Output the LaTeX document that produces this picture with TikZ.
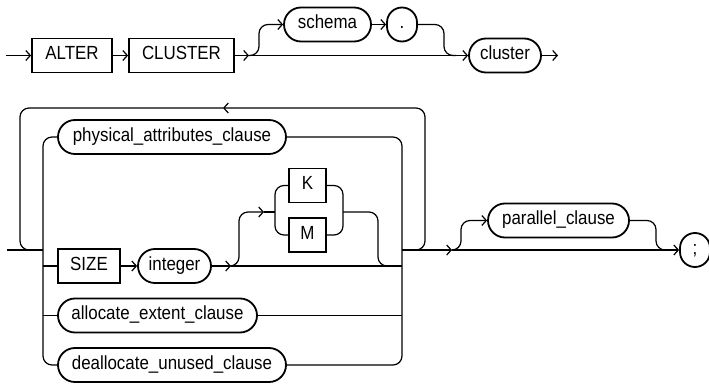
\documentclass[tikz,border=0pt]{standalone}
\usepackage{fontspec}
\setmainfont{Liberation Sans}[FakeStretch=0.89]
\usetikzlibrary{arrows.meta}
\tikzset{
  rail/.style={line width=1.2pt},
  ar/.style={rail,-{Straight Barb[length=4.5pt,width=10pt]}},
  rc/.style={rail,rounded corners=9pt},
  kwbox/.style={draw,line width=1.8pt,minimum height=34pt,inner sep=0pt,text height=13.6pt,text depth=5pt},
  pill/.style={kwbox,rounded corners=17pt},
  dotpill/.style={kwbox,rounded corners=15pt,minimum width=30pt}
}

\begin{document}
\begin{tikzpicture}[x=1pt,y=-1pt,font=\fontsize{19}{22}\selectfont]
\useasboundingbox (0,0) rectangle (709,385);
% first line
\node[kwbox,minimum width=80pt] (alter) at (72,55.5) {ALTER};
\node[kwbox,minimum width=105pt] (clusterkw) at (181.5,55.5) {CLUSTER};
\node[pill,minimum width=87pt] (schema) at (327.5,24.5) {schema};
\node[dotpill] (dot) at (402,24.5) {.};
\node[pill,minimum width=72pt] (cluster) at (505,55.5) {cluster};
\coordinate (in1) at (6,55.5);
\coordinate (j1) at (249,55.5);
\coordinate (out1) at (558,55.5);
\draw[ar] (in1) -- (alter);
\draw[ar] (alter) -- (clusterkw);
\draw[ar] (clusterkw) -- (j1);
\draw[ar] (j1) -- (cluster);
\draw[rc,ar] (j1) -| (259,24.5) -- (schema);
\draw[ar] (schema) -- (dot);
\draw[rc] (dot.east) -| (444,55.5) -- (456,55.5);
\draw[ar] (cluster) -- (out1);
% second line
\node[pill,minimum width=228pt] (phys) at (172,137) {physical\_attributes\_clause};
\node[kwbox,minimum width=62pt] (size) at (89,266) {SIZE};
\node[pill,minimum width=73pt] (int) at (174.5,266) {integer};
\node[kwbox,minimum width=37pt] (k) at (307.5,185.5) {K};
\node[kwbox,minimum width=37pt] (m) at (307.5,235) {M};
\node[pill,minimum width=199pt] (alloc) at (157.5,315.5) {allocate\_extent\_clause};
\node[pill,minimum width=228pt] (dealloc) at (172,365) {deallocate\_unused\_clause};
\node[pill,minimum width=141pt] (par) at (558.5,220.5) {parallel\_clause};
\node[dotpill] (semi) at (695,250) {;};
\coordinate (in2) at (7,250);
\coordinate (cl) at (43,250);
\coordinate (cr) at (402,250);
\coordinate (lpr) at (425,108);
\coordinate (lpm) at (223,108);
\coordinate (km0) at (231,266);
\coordinate (kma) at (264,212);
\coordinate (kml) at (275,212);
\coordinate (kmr) at (343,212);
\coordinate (kmj) at (390,266);
\coordinate (j2) at (452,250);
% repeat loop
\draw[rc,ar] (cr) -| (lpr) -- (lpm);
\draw[rc] (lpm) -| (20,250) -- (cl);
\draw[rail] (in2) -- (cl);
% choices
\draw[rc] (phys.west) -| (cl) |- (dealloc.west);
\draw[rc] (phys.east) -| (cr) |- (dealloc.east);
\draw[rail] (cl |- size.west) -- (size.west);
\draw[ar] (size) -- (int);
\draw[ar] (int.east) -- (km0);
\draw[rail] (km0) -- (cr |- km0);
\draw[rc,ar] (km0) -| (239,212) -- (kma);
\draw[rail] (kma) -- (kml);
\draw[rc] (k.west) -| (kml) |- (m.west);
\draw[rc] (k.east) -| (kmr) |- (m.east);
\draw[rc] (kmr) -| (378,266) -- (kmj);
\draw[rail] (cl |- alloc.west) -- (alloc.west);
\draw[rail] (alloc.east) -- (cr |- alloc.east);
% end
\draw[ar] (cr) -- (j2);
\draw[ar] (j2) -- (semi);
\draw[rc,ar] (j2) -| (461,220.5) -- (par);
\draw[rc] (par.east) -| (656,250) -- (667,250);
\end{tikzpicture}
\end{document}
